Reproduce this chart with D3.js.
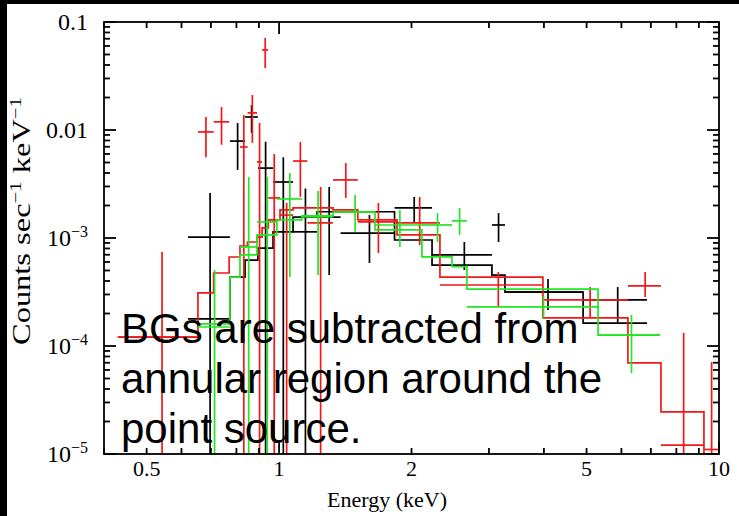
<!DOCTYPE html>
<html>
<head>
<meta charset="utf-8">
<script src="https://cdn.jsdelivr.net/npm/d3@7"></script>
<style>
  html, body { margin: 0; padding: 0; background: #fff; }
  svg { display: block; }
</style>
</head>
<body>
<svg id="chart" width="739" height="516"></svg>
<script>
// ---- spectral data (energy bins in keV, rates in counts/s/keV) ----
// Black group
const blackEdges = [0.621, 0.773, 0.837, 0.895, 0.969, 1.076, 1.22, 1.38, 1.83, 2.227, 3.047, 3.262, 4.91, 6.86];
const blackModel = [1.78e-4, 4.35e-4, 6.25e-4, 8.07e-4, 1.14e-3, 1.56e-3, 1.75e-3, 1.75e-3, 9.58e-4, 5.62e-4, 4.54e-4, 3.16e-4, 1.63e-4];
const blackRate  = [1.02e-3, 7.9e-3, 1.32e-2, 4.44e-3, 3.3e-3, 1.14e-3, 1.56e-3, 1.11e-3, 1.9e-3, 6.97e-4, 1.32e-3, 3.16e-4, 2.67e-4];
const blackLo    = [1e-6, 4.27e-3, 9.4e-3, 1e-6, 1e-6, 1e-6, 4.54e-4, 5.87e-4, 1.38e-3, 5.06e-4, 9.18e-4, 2.15e-4, 1.63e-4];
const blackHi    = [2.61e-3, 1.16e-2, 1.7e-2, 7.8e-3, 5.58e-3, 2.88e-3, 2.97e-3, 1.63e-3, 2.4e-3, 9.18e-4, 1.7e-3, 4.17e-4, 3.52e-4];

// Red group
const redEdges = [0.43, 0.654, 0.71, 0.77, 0.815, 0.848, 0.891, 0.915, 0.945, 1.005, 1.076, 1.16, 1.326, 1.51, 1.854, 2.321, 3.979, 6.209, 7.38, 9.242, 10.0];
const redModel = [1.21e-4, 3.1e-4, 4.74e-4, 6.67e-4, 8.43e-4, 9.18e-4, 1.02e-3, 1.24e-3, 1.47e-3, 1.82e-3, 1.9e-3, 1.9e-3, 1.82e-3, 1.47e-3, 1.07e-3, 4.35e-4, 1.82e-4, 6.97e-5, 2.45e-5, 5e-6];
const redRate  = [1.21e-4, 9.6e-3, 1.19e-2, null, 6.96e-3, 1.44e-2, 5.06e-3, 5.51e-2, 2.35e-3, 1.63e-3, 5.16e-3, 1.38e-3, 3.45e-3, 1.41e-3, 1.38e-3, 3.67e-4, 2.67e-4, 3.6e-4, 1.21e-5, 1.1e-5];
const redLo    = [1e-6, 5.6e-3, 7.3e-3, null, 1e-6, 7.6e-3, 1e-6, 3.75e-2, 1e-6, 1e-6, 2.4e-3, 1e-6, 2.35e-3, 7.26e-4, 8.6e-4, 2.3e-4, 1.82e-4, 2.84e-4, 1e-6, 1e-6];
const redHi    = [7.4e-4, 1.32e-2, 1.63e-2, null, 1.38e-2, 2.11e-2, 1.16e-2, 7.11e-2, 6.0e-3, 2.11e-3, 7.74e-3, 2.96e-3, 4.94e-3, 2.11e-3, 2.4e-3, 4.84e-4, 3.52e-4, 4.84e-4, 1.32e-4, 7.1e-5];

// Green group
const greenEdges = [0.654, 0.773, 0.815, 0.891, 0.989, 1.127, 1.326, 1.652, 2.112, 2.472, 2.673, 5.31, 7.34];
const greenModel = [1.6e-4, 4.35e-4, 6.97e-4, 1.07e-3, 1.47e-3, 1.6e-3, 1.74e-3, 1.19e-3, 6.7e-4, 5.43e-4, 3.36e-4, 1.26e-4];
const greenRate  = [1.5e-4, null, 8.26e-4, 1.41e-3, 2.3e-3, 1.57e-3, 1.74e-3, 1.32e-3, 1.32e-3, 1.44e-3, 2.3e-4, 1.26e-4];
const greenLo    = [1e-6, null, 1e-6, 1e-6, 4.35e-4, 4.54e-4, 1.14e-3, 8.26e-4, 9.18e-4, 1.07e-3, 1.8e-4, 5.62e-5];
const greenHi    = [5.06e-4, null, 3.67e-3, 3.67e-3, 4.0e-3, 2.72e-3, 2.5e-3, 1.82e-3, 1.7e-3, 1.9e-3, 2.9e-4, 1.94e-4];

// ---- axis ticks and labels ----
const xLabelTicks = [0.5, 1, 2, 5, 10];
const xLabelText  = ["0.5", "1", "2", "5", "10"];
const xMajorTicks = [1, 10];
const xMinorTicks = [0.4, 0.5, 0.6, 0.7, 0.8, 0.9, 2, 3, 4, 5, 6, 7, 8, 9];
const yDecades    = [0.1, 0.01, 1e-3, 1e-4, 1e-5];
const yLabelBase  = ["0.1", "0.01", "10", "10", "10"];
const yLabelExp   = ["", "", "\u22123", "\u22124", "\u22125"];
const yMinorMult  = [2, 3, 4, 5, 6, 7, 8, 9];

const noteLines = ["BGs are subtracted from", "annular region around the", "point source."];

// ---- layout ----
const svg = d3.select("#chart");
const plotL = 104, plotR = 719, plotT = 22, plotB = 454;

const x = d3.scaleLog().domain([0.4, 10]).range([plotL, plotR]);
const y = d3.scaleLog().domain([1e-5, 0.1]).range([plotB, plotT]).clamp(true);

svg.append("rect").attr("width", 739).attr("height", 516).attr("fill", "#fff");
// dark edge bands
svg.append("rect").attr("x", 0).attr("y", 0).attr("width", 739).attr("height", 4).attr("fill", "#000");
svg.append("rect").attr("x", 0).attr("y", 0).attr("width", 7).attr("height", 516).attr("fill", "#000");

svg.append("clipPath").attr("id", "plotclip")
  .append("rect").attr("x", plotL).attr("y", plotT).attr("width", plotR - plotL).attr("height", plotB - plotT);

const plot = svg.append("g").attr("clip-path", "url(#plotclip)");

const groups = [
  { color: "#000000", edges: blackEdges, model: blackModel, rate: blackRate, lo: blackLo, hi: blackHi },
  { color: "#f01818", edges: redEdges,   model: redModel,   rate: redRate,   lo: redLo,   hi: redHi },
  { color: "#22e622", edges: greenEdges, model: greenModel, rate: greenRate, lo: greenLo, hi: greenHi }
];

const stepLine = d3.line()
  .x(d => x(d[0]))
  .y(d => y(d[1]))
  .curve(d3.curveStepAfter);

groups.forEach(g => {
  const n = g.model.length;
  // model histogram
  const pts = g.model.map((m, i) => [g.edges[i], m]);
  pts.push([g.edges[n], g.model[n - 1]]);
  plot.append("path")
    .attr("d", stepLine(pts))
    .attr("fill", "none")
    .attr("stroke", g.color)
    .attr("stroke-width", 1.7);

  // data crosses: energy bin width horizontally, 1-sigma range vertically
  const cross = plot.append("g").attr("stroke", g.color).attr("stroke-width", 1.7);
  g.rate.forEach((r, i) => {
    if (r === null) return;
    const e0 = g.edges[i], e1 = g.edges[i + 1];
    const ec = (e0 + e1) / 2;
    cross.append("line")
      .attr("x1", x(e0)).attr("x2", x(e1))
      .attr("y1", y(r)).attr("y2", y(r));
    cross.append("line")
      .attr("x1", x(ec)).attr("x2", x(ec))
      .attr("y1", y(g.lo[i])).attr("y2", y(g.hi[i]));
  });
});

// ---- frame and ticks ----
const axisG = svg.append("g").attr("stroke", "#000").attr("stroke-width", 1.8).attr("fill", "none");
axisG.append("rect").attr("x", plotL).attr("y", plotT).attr("width", plotR - plotL).attr("height", plotB - plotT);

const xTick = (v, len) => {
  axisG.append("line").attr("x1", x(v)).attr("x2", x(v)).attr("y1", plotB).attr("y2", plotB - len);
  axisG.append("line").attr("x1", x(v)).attr("x2", x(v)).attr("y1", plotT).attr("y2", plotT + len);
};
xMinorTicks.forEach(v => xTick(v, 6));
xMajorTicks.forEach(v => xTick(v, 12));

const yTick = (v, len) => {
  axisG.append("line").attr("x1", plotL).attr("x2", plotL + len).attr("y1", y(v)).attr("y2", y(v));
  axisG.append("line").attr("x1", plotR).attr("x2", plotR - len).attr("y1", y(v)).attr("y2", y(v));
};
yDecades.forEach(d => {
  yTick(d, 12);
  if (d < 0.1) yMinorMult.forEach(m => yTick(d * m, 6));
});

// ---- labels ----
const serif = "'Liberation Serif', 'DejaVu Serif', serif";

svg.append("g").selectAll("text").data(xLabelTicks).join("text")
  .attr("x", d => x(d)).attr("y", 476)
  .attr("text-anchor", "middle")
  .attr("font-family", serif).attr("font-size", 22)
  .text((d, i) => xLabelText[i]);

// decade labels: plain numbers right-aligned, powers of ten with a raised exponent
const yLab = svg.append("g").attr("font-family", serif);
yDecades.forEach((d, i) => {
  const t = yLab.append("text")
    .attr("x", 88).attr("y", y(d) + 8)
    .attr("text-anchor", "end")
    .attr("font-size", 24);
  t.append("tspan").text(yLabelBase[i]);
  if (yLabelExp[i]) {
    t.append("tspan").attr("font-size", 16).attr("dy", -9).text(yLabelExp[i]);
  }
});

svg.append("text")
  .attr("x", 387).attr("y", 507)
  .attr("text-anchor", "middle")
  .attr("font-family", serif).attr("font-size", 22)
  .text("Energy (keV)");

const yTitle = svg.append("text")
  .attr("transform", "translate(30,221) rotate(-90)")
  .attr("text-anchor", "middle")
  .attr("font-family", serif).attr("font-size", 25)
  .attr("textLength", 248)
  .attr("lengthAdjust", "spacingAndGlyphs");
yTitle.append("tspan").text("Counts sec");
yTitle.append("tspan").attr("font-size", 16).attr("dy", -9).text("\u22121");
yTitle.append("tspan").attr("dy", 9).text(" keV");
yTitle.append("tspan").attr("font-size", 16).attr("dy", -9).text("\u22121");

// ---- annotation ----
svg.append("g").selectAll("text").data(noteLines).join("text")
  .attr("x", 121).attr("y", (d, i) => 343 + i * 50)
  .attr("font-family", "'Liberation Sans', Arial, sans-serif")
  .attr("font-size", 42)
  .attr("fill", "#000")
  .text(d => d);
</script>
</body>
</html>
